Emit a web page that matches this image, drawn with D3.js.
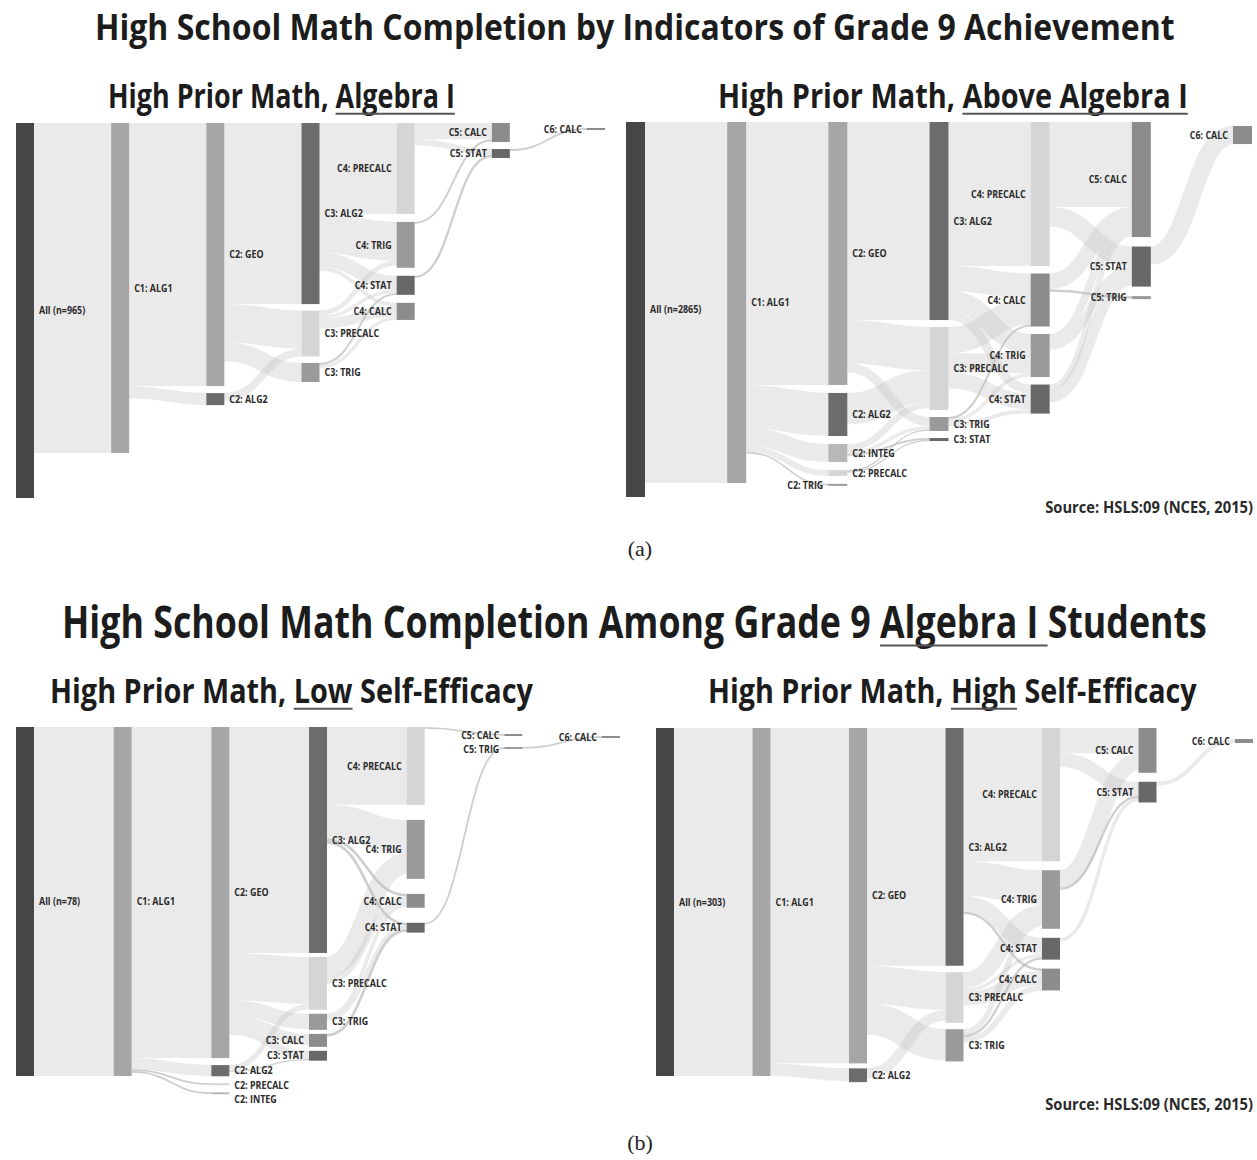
<!DOCTYPE html>
<html>
<head>
<meta charset="utf-8">
<script src="https://cdn.jsdelivr.net/npm/d3@7"></script>
<style>
  body { margin: 0; background: #fff; }
  svg { display: block; }
  text { white-space: pre; }
</style>
</head>
<body>
<div id="container"></div>
<script>
/* DATA */
// (a) left: High prior math, Algebra I
const p1Nodes = ["All (n=965)", "C1: ALG1", "C2: GEO", "C2: ALG2", "C3: ALG2", "C3: PRECALC", "C3: TRIG",
  "C4: PRECALC", "C4: TRIG", "C4: STAT", "C4: CALC", "C5: CALC", "C5: STAT", "C6: CALC"];
const p1Values = [965, 849, 677, 31, 466, 118, 49, 234, 118, 49, 44, 49, 23, 5];
const p1Links = [
  ["All (n=965)", "C1: ALG1", 849],
  ["C1: ALG1", "C2: GEO", 677], ["C1: ALG1", "C2: ALG2", 31],
  ["C2: GEO", "C3: ALG2", 466], ["C2: GEO", "C3: PRECALC", 98], ["C2: GEO", "C3: TRIG", 49],
  ["C2: ALG2", "C3: PRECALC", 20],
  ["C3: ALG2", "C4: PRECALC", 234], ["C3: ALG2", "C4: TRIG", 100], ["C3: ALG2", "C4: STAT", 36], ["C3: ALG2", "C4: CALC", 10],
  ["C3: PRECALC", "C4: TRIG", 12], ["C3: PRECALC", "C4: STAT", 8], ["C3: PRECALC", "C4: CALC", 26],
  ["C3: TRIG", "C4: STAT", 5], ["C3: TRIG", "C4: CALC", 8],
  ["C4: PRECALC", "C5: CALC", 42], ["C4: PRECALC", "C5: STAT", 15], ["C4: TRIG", "C5: CALC", 5], ["C4: STAT", "C5: STAT", 6],
  ["C5: STAT", "C6: CALC", 5]
];

// (a) right: High prior math, above Algebra I
const p2Nodes = ["All (n=2865)", "C1: ALG1", "C2: GEO", "C2: ALG2", "C2: INTEG", "C2: PRECALC", "C2: TRIG",
  "C3: ALG2", "C3: PRECALC", "C3: TRIG", "C3: STAT", "C4: PRECALC", "C4: CALC", "C4: TRIG", "C4: STAT",
  "C5: CALC", "C5: STAT", "C5: TRIG", "C6: CALC"];
const p2Values = [2865, 2758, 2009, 329, 138, 44, 12, 1513, 634, 107, 23, 1100, 405, 329, 222, 879, 306, 23, 138];
const p2Links = [
  ["All (n=2865)", "C1: ALG1", 2758],
  ["C1: ALG1", "C2: GEO", 2009], ["C1: ALG1", "C2: ALG2", 329], ["C1: ALG1", "C2: INTEG", 138],
  ["C1: ALG1", "C2: PRECALC", 44], ["C1: ALG1", "C2: TRIG", 12],
  ["C2: GEO", "C3: ALG2", 1513], ["C2: GEO", "C3: PRECALC", 330], ["C2: GEO", "C3: TRIG", 70],
  ["C2: ALG2", "C3: PRECALC", 240],
  ["C2: INTEG", "C3: PRECALC", 50], ["C2: INTEG", "C3: TRIG", 25], ["C2: INTEG", "C3: STAT", 15],
  ["C2: PRECALC", "C3: TRIG", 10], ["C2: PRECALC", "C3: STAT", 8],
  ["C3: ALG2", "C4: PRECALC", 1100], ["C3: ALG2", "C4: CALC", 190], ["C3: ALG2", "C4: TRIG", 150], ["C3: ALG2", "C4: STAT", 70],
  ["C3: PRECALC", "C4: CALC", 200], ["C3: PRECALC", "C4: TRIG", 150], ["C3: PRECALC", "C4: STAT", 120],
  ["C3: TRIG", "C4: CALC", 15], ["C3: TRIG", "C4: TRIG", 25], ["C3: TRIG", "C4: STAT", 30],
  ["C4: PRECALC", "C5: CALC", 650], ["C4: PRECALC", "C5: STAT", 150],
  ["C4: CALC", "C5: CALC", 120], ["C4: CALC", "C5: TRIG", 20],
  ["C4: TRIG", "C5: CALC", 60], ["C4: TRIG", "C5: STAT", 60],
  ["C4: STAT", "C5: CALC", 45], ["C4: STAT", "C5: STAT", 90],
  ["C5: STAT", "C6: CALC", 138]
];

// (b) left: High prior math, low self-efficacy
const p3Nodes = ["All (n=78)", "C1: ALG1", "C2: GEO", "C2: ALG2", "C2: PRECALC", "C2: INTEG",
  "C3: ALG2", "C3: PRECALC", "C3: TRIG", "C3: CALC", "C3: STAT",
  "C4: PRECALC", "C4: TRIG", "C4: CALC", "C4: STAT", "C5: CALC", "C5: TRIG", "C6: CALC"];
const p3Values = [78, 78, 74, 2.5, 0.4, 0.4, 50.5, 11.8, 3.6, 2.9, 2.2, 17.4, 13.2, 3.1, 2.2, 0.4, 0.4, 0.4];
const p3Links = [
  ["All (n=78)", "C1: ALG1", 78],
  ["C1: ALG1", "C2: GEO", 74], ["C1: ALG1", "C2: ALG2", 2.5], ["C1: ALG1", "C2: PRECALC", 0.4], ["C1: ALG1", "C2: INTEG", 0.4],
  ["C2: GEO", "C3: ALG2", 50.5], ["C2: GEO", "C3: PRECALC", 10.5], ["C2: GEO", "C3: TRIG", 3.4],
  ["C2: GEO", "C3: CALC", 2.6], ["C2: GEO", "C3: STAT", 1.8],
  ["C2: ALG2", "C3: PRECALC", 1.2], ["C2: ALG2", "C3: STAT", 0.3],
  ["C3: ALG2", "C4: PRECALC", 17.4], ["C3: ALG2", "C4: TRIG", 7.5], ["C3: ALG2", "C4: CALC", 0.6], ["C3: ALG2", "C4: STAT", 0.6],
  ["C3: PRECALC", "C4: TRIG", 4.5], ["C3: PRECALC", "C4: CALC", 1.5],
  ["C3: TRIG", "C4: CALC", 0.8], ["C3: TRIG", "C4: STAT", 0.8], ["C3: CALC", "C4: STAT", 0.6],
  ["C4: PRECALC", "C5: CALC", 0.4], ["C4: STAT", "C5: TRIG", 0.4],
  ["C5: TRIG", "C6: CALC", 0.4]
];

// (b) right: High prior math, high self-efficacy
const p4Nodes = ["All (n=303)", "C1: ALG1", "C2: GEO", "C2: ALG2", "C3: ALG2", "C3: PRECALC", "C3: TRIG",
  "C4: PRECALC", "C4: TRIG", "C4: STAT", "C4: CALC", "C5: CALC", "C5: STAT", "C6: CALC"];
const p4Values = [303, 303, 292, 12, 207, 44, 28, 116, 51, 19, 19, 39, 18, 3.5];
const p4Links = [
  ["All (n=303)", "C1: ALG1", 303],
  ["C1: ALG1", "C2: GEO", 292], ["C1: ALG1", "C2: ALG2", 11],
  ["C2: GEO", "C3: ALG2", 207], ["C2: GEO", "C3: PRECALC", 33], ["C2: GEO", "C3: TRIG", 27],
  ["C2: ALG2", "C3: PRECALC", 9],
  ["C3: ALG2", "C4: PRECALC", 116], ["C3: ALG2", "C4: TRIG", 30], ["C3: ALG2", "C4: STAT", 14], ["C3: ALG2", "C4: CALC", 2],
  ["C3: PRECALC", "C4: TRIG", 14], ["C3: PRECALC", "C4: STAT", 3], ["C3: PRECALC", "C4: CALC", 12],
  ["C3: TRIG", "C4: TRIG", 5], ["C3: TRIG", "C4: STAT", 2], ["C3: TRIG", "C4: CALC", 5],
  ["C4: PRECALC", "C5: CALC", 22], ["C4: PRECALC", "C5: STAT", 12], ["C4: TRIG", "C5: CALC", 15],
  ["C4: TRIG", "C5: STAT", 2], ["C4: STAT", "C5: STAT", 3],
  ["C5: STAT", "C6: CALC", 3.5]
];

const source = "Source: HSLS:09 (NCES, 2015)";

/* CONSTANTS AND GLOBALS */
const W = 1257, H = 1160;
const FONT = "'Open Sans', 'Noto Sans', sans-serif";
const LABEL_SIZE = 10.5, LABEL_GAP = 14.5;

const courseColor = {
  All: "#464646", ALG1: "#a6a6a6", GEO: "#a6a6a6", ALG2: "#6c6c6c", PRECALC: "#d5d5d5",
  TRIG: "#9a9a9a", STAT: "#686868", CALC: "#8c8c8c", INTEG: "#b8b8b8"
};

// layout of each panel (pixels); data comes from the arrays above
const panels = [
  { names: p1Nodes, values: p1Values, links: p1Links, left: 16, right: 605, top: 123, height: 375, nodeW: 18,
    pad: [0, 0, 7, 6.5, 8, 7, 0], shift: [0, 0, 0, 0, 0, 0, 5], leftLabels: [] },
  { names: p2Nodes, values: p2Values, links: p2Links, left: 626, right: 1252, top: 122, height: 375, nodeW: 19,
    pad: [0, 0, 8, 7, 7.5, 9.5, 0], shift: [0, 0, 0, 0, 0, 0, 4], leftLabels: ["C2: TRIG"] },
  { names: p3Nodes, values: p3Values, links: p3Links, left: 16, right: 620, top: 727, height: 349, nodeW: 18,
    pad: [0, 0, 7, 4, 15, 11, 0], shift: [0, 0, 0, 0, 0, 7, 9], leftLabels: ["C3: CALC", "C3: STAT"] },
  { names: p4Nodes, values: p4Values, links: p4Links, left: 656, right: 1253, top: 728, height: 348, nodeW: 18,
    pad: [0, 0, 5, 6.5, 9, 9, 0], shift: [0, 0, 0, 0, 0, 0, 11], leftLabels: [] }
];

const svg = d3.select("#container")
  .append("svg")
  .attr("width", W)
  .attr("height", H);

svg.append("rect").attr("width", W).attr("height", H).attr("fill", "#fff");

// horizontally squeezed bold text (condensed look)
function squeezed(parent, x, y, str, size, anchor, sx, width) {
  const g = parent.append("g");
  const t = g.append("text")
    .attr("font-family", FONT)
    .attr("font-weight", 700)
    .attr("font-size", size)
    .attr("fill", "#2a2a2a")
    .attr("text-anchor", anchor)
    .attr("dy", "0.35em")
    .text(str);
  if (width) sx = width / t.node().getComputedTextLength();
  g.attr("transform", `translate(${x},${y}) scale(${sx},1)`);
  return g;
}

// title with underlined pieces, fitted between x0 and x1
function titleLine(parts, x0, x1, baseline, size) {
  const g = svg.append("g");
  const t = g.append("text")
    .attr("font-family", FONT)
    .attr("font-weight", 700)
    .attr("font-size", size)
    .attr("fill", "#1c1c1c");
  const spans = parts.map(p => t.append("tspan").text(p[0]));
  const sx = (x1 - x0) / t.node().getComputedTextLength();
  g.attr("transform", `translate(${x0},${baseline}) scale(${sx},1)`);
  let off = 0;
  parts.forEach((p, i) => {
    const len = spans[i].node().getComputedTextLength();
    if (p[1]) {
      g.append("line")
        .attr("x1", off).attr("x2", off + len)
        .attr("y1", size * 0.17).attr("y2", size * 0.17)
        .attr("stroke", "#555").attr("stroke-width", 2);
    }
    off += len;
  });
}

function colOf(name) {
  return name.startsWith("All") ? 0 : +name.slice(1, name.indexOf(":"));
}
function courseOf(name) {
  return name.startsWith("All") ? "All" : name.slice(name.indexOf(":") + 2);
}

function drawPanel(cfg) {
  const nodes = cfg.names.map((name, i) => ({
    name, value: cfg.values[i], col: colOf(name), sourceLinks: [], targetLinks: []
  }));
  const byName = new Map(nodes.map(n => [n.name, n]));
  const links = cfg.links.map(([s, t, v]) => ({ source: byName.get(s), target: byName.get(t), value: v }));
  links.forEach(l => { l.source.sourceLinks.push(l); l.target.targetLinks.push(l); });

  const xScale = d3.scaleLinear().domain([0, 6]).range([cfg.left, cfg.right - cfg.nodeW]);
  const yScale = d3.scaleLinear().domain([0, nodes[0].value]).range([0, cfg.height]);

  // stack nodes top-down in each column
  d3.groups(nodes, d => d.col).forEach(([col, colNodes]) => {
    let y = cfg.top + cfg.shift[col];
    colNodes.forEach(n => {
      n.x0 = xScale(col);
      n.x1 = n.x0 + cfg.nodeW;
      n.y0 = y;
      n.y1 = y + Math.max(2, yScale(n.value));
      y = n.y1 + cfg.pad[col];
    });
  });

  links.forEach(l => { l.width = Math.max(1.2, yScale(l.value)); });
  nodes.forEach(n => {
    n.sourceLinks.sort((a, b) => a.target.y0 - b.target.y0);
    n.targetLinks.sort((a, b) => a.source.y0 - b.source.y0);
    let sy = n.y0;
    n.sourceLinks.forEach(l => { l.y0 = sy + l.width / 2; sy += l.width; });
    let ty = n.y0;
    n.targetLinks.forEach(l => { l.y1 = ty + l.width / 2; ty += l.width; });
  });

  const g = svg.append("g");

  const linkPath = d3.linkHorizontal()
    .source(d => [d.source.x1, d.y0])
    .target(d => [d.target.x0, d.y1]);

  g.append("g")
    .attr("fill", "none")
    .selectAll("path")
    .data(links)
    .join("path")
    .attr("d", linkPath)
    .attr("stroke", "#bdbdbd")
    .attr("stroke-opacity", d => d.width < 3 ? 0.75 : 0.32)
    .attr("stroke-width", d => d.width);

  g.append("g")
    .selectAll("rect")
    .data(nodes)
    .join("rect")
    .attr("x", d => d.x0)
    .attr("y", d => d.y0)
    .attr("width", d => d.x1 - d.x0)
    .attr("height", d => d.y1 - d.y0)
    .attr("fill", d => courseColor[courseOf(d.name)]);

  // labels: right of early columns, left of late ones; push apart when crowded
  nodes.forEach(n => {
    n.left = n.col >= 4 || cfg.leftLabels.includes(n.name);
    n.ly = (n.y0 + n.y1) / 2;
  });
  d3.groups(nodes, d => d.col + (d.left ? "L" : "R")).forEach(([, grp]) => {
    grp.sort((a, b) => a.ly - b.ly);
    for (let i = 1; i < grp.length; i++) {
      if (grp[i].ly < grp[i - 1].ly + LABEL_GAP) grp[i].ly = grp[i - 1].ly + LABEL_GAP;
    }
  });

  const labels = g.append("g");
  nodes.forEach(n => {
    squeezed(labels, n.left ? n.x0 - 5 : n.x1 + 5, n.ly, n.name, LABEL_SIZE,
      n.left ? "end" : "start", 0.85);
  });
}

/* TITLES */
titleLine([["High School Math Completion by Indicators of Grade 9 Achievement", false]], 95, 1175, 40, 35);
titleLine([["High Prior Math, ", false], ["Algebra I", true]], 108, 455, 108, 34);
titleLine([["High Prior Math, ", false], ["Above Algebra I", true]], 718, 1188, 108, 34);
titleLine([["High School Math Completion Among Grade 9 ", false], ["Algebra I ", true], ["Students", false]], 62, 1207, 638, 44);
titleLine([["High Prior Math, ", false], ["Low", true], [" Self-Efficacy", false]], 50, 533, 703, 34);
titleLine([["High Prior Math, ", false], ["High", true], [" Self-Efficacy", false]], 708, 1197, 703, 34);

panels.forEach(drawPanel);

/* SOURCES AND CAPTIONS */
squeezed(svg, 1253, 507, source, 16, "end", 1, 208);
squeezed(svg, 1253, 1104, source, 16, "end", 1, 208);

[["(a)", 556], ["(b)", 1150]].forEach(([s, y]) => {
  svg.append("text")
    .attr("x", 640)
    .attr("y", y)
    .attr("text-anchor", "middle")
    .attr("font-family", "'Liberation Serif', 'DejaVu Serif', serif")
    .attr("font-size", 22)
    .attr("fill", "#222")
    .text(s);
});
</script>
</body>
</html>
